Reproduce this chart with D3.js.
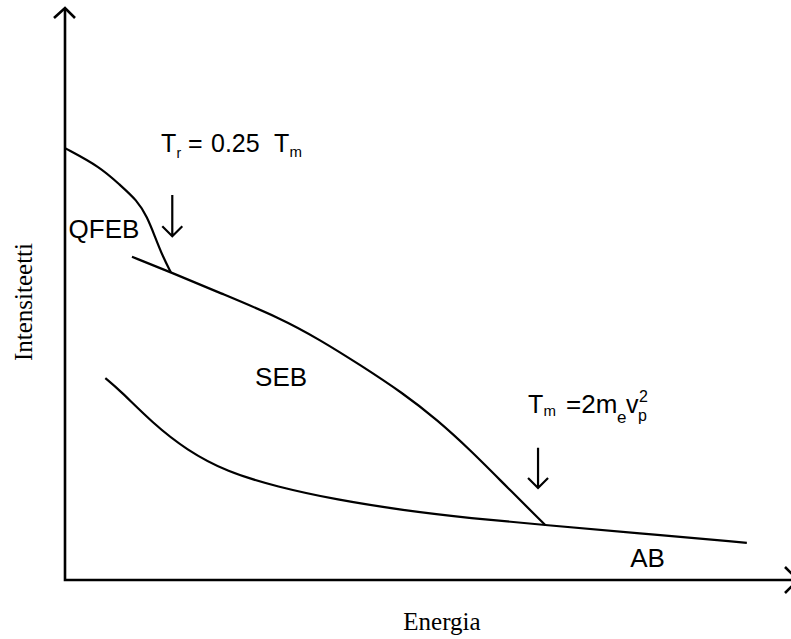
<!DOCTYPE html>
<html>
<head>
<meta charset="utf-8">
<script src="https://cdn.jsdelivr.net/npm/d3@7"></script>
<style>
  body { margin: 0; background: #fff; }
  .curve { fill: none; stroke: #000; stroke-width: 2.2; }
  .axis-line { fill: none; stroke: #000; stroke-width: 2.6; }
  .lbl { font-family: "Liberation Sans", Arial, sans-serif; font-size: 25px; fill: #000; }
  .region { font-size: 26px; }
  .title { font-family: "Liberation Serif", "Times New Roman", serif; font-size: 25px; fill: #000; }
</style>
</head>
<body>
<script>
var width = 791,
  height = 639;

// energia (x) / intensiteetti (y), arbitrary units 0..100
var qfebEnergy = [0, 4.9, 7.6, 10.0, 11.4, 12.5, 13.6, 14.7];
var qfebIntensity = [75.5, 72.2, 69.1, 66.4, 63.5, 60.0, 56.5, 53.8];

var sebEnergy = [9.3, 14.7, 21.5, 29.9, 35.4, 41.0, 46.9, 51.7, 56.3, 60.8, 66.7];
var sebIntensity = [56.5, 53.8, 50.2, 45.8, 42.0, 37.6, 32.7, 28.0, 22.7, 17.0, 9.6];

var abEnergy = [5.6, 7.6, 12.2, 16.9, 22.5, 29.4, 37.8, 46.9, 56.3, 66.7, 79.4, 94.7];
var abIntensity = [35.3, 33.2, 27.4, 22.7, 18.9, 16.3, 14.0, 12.2, 10.8, 9.6, 8.2, 6.5];

// kynnysenergiat: Tr = 0.25 Tm ja Tm
var markerEnergy = [14.9, 65.7];
var markerTop = [67.3, 23.1];
var markerBottom = [60.1, 16.1];

var regionLabels = ["QFEB", "SEB", "AB"];

var svg = d3.select("body").append("svg")
  .attr("width", width)
  .attr("height", height);

var x = d3.scaleLinear().domain([0, 100]).range([65, 785]);
var y = d3.scaleLinear().domain([0, 100]).range([580, 8]);

var line = d3.line()
  .x(d => x(d[0]))
  .y(d => y(d[1]))
  .curve(d3.curveBasis);

var curves = [
  d3.zip(qfebEnergy, qfebIntensity),
  d3.zip(sebEnergy, sebIntensity),
  d3.zip(abEnergy, abIntensity)
];

svg.selectAll(".curve")
  .data(curves)
  .enter()
  .append("path")
  .attr("class", "curve")
  .attr("d", line);

// akselit nuolineen
var x0 = x(0), y0 = y(0);
svg.append("path")
  .attr("class", "axis-line")
  .attr("d", `M${x0},${y(100)} V${y0} H${x(100) + 15}`);
svg.append("path")
  .attr("class", "axis-line")
  .attr("stroke-width", 2)
  .attr("d", `M${x0 - 11},${y(100) + 10} L${x0},${y(100)} L${x0 + 10},${y(100) + 10}`);
svg.append("path")
  .attr("class", "axis-line")
  .attr("stroke-width", 2)
  .attr("d", `M${x(100)},${y0 - 13} L${x(100) + 13},${y0} L${x(100)},${y0 + 13}`);

// nuolet alaspäin
svg.selectAll(".marker")
  .data(markerEnergy.map((e, i) => ({ e: e, top: markerTop[i], bottom: markerBottom[i] })))
  .enter()
  .append("path")
  .attr("class", "curve marker")
  .attr("stroke-width", 2)
  .attr("d", d => {
    var cx = x(d.e), t = y(d.top), b = y(d.bottom);
    return `M${cx},${t} V${b} M${cx - 10},${b - 10} L${cx},${b} L${cx + 10},${b - 10}`;
  });

// alueiden nimet
var labelPos = [[0.5, 59.8], [26.4, 33.9], [78.5, 2.3]];
svg.selectAll(".region")
  .data(regionLabels)
  .enter()
  .append("text")
  .attr("class", "lbl region")
  .attr("x", (d, i) => x(labelPos[i][0]))
  .attr("y", (d, i) => y(labelPos[i][1]))
  .text(d => d);

// Tr = 0.25 Tm
var t1 = svg.append("text").attr("class", "lbl");
t1.append("tspan").attr("x", 161).attr("y", 152).text("T");
t1.append("tspan").attr("x", 176.5).attr("y", 158).attr("font-size", 14).text("r");
t1.append("tspan").attr("x", 188).attr("y", 152).text("=");
t1.append("tspan").attr("x", 211).attr("y", 152).text("0.25");
t1.append("tspan").attr("x", 274).attr("y", 152).text("T");
t1.append("tspan").attr("x", 289.5).attr("y", 157).attr("font-size", 15).text("m");

// Tm = 2 me vp^2
var t2 = svg.append("text").attr("class", "lbl");
t2.append("tspan").attr("x", 528).attr("y", 413).text("T");
t2.append("tspan").attr("x", 543.5).attr("y", 416).attr("font-size", 15).text("m");
t2.append("tspan").attr("x", 566).attr("y", 413).attr("font-size", 26).text("=2m");
t2.append("tspan").attr("x", 617).attr("y", 423).attr("font-size", 17).text("e");
t2.append("tspan").attr("x", 626).attr("y", 413).text("v");
t2.append("tspan").attr("x", 638).attr("y", 421).attr("font-size", 16).text("p");
t2.append("tspan").attr("x", 639).attr("y", 402).attr("font-size", 16).text("2");

// akselien otsikot
svg.append("text")
  .attr("class", "title")
  .attr("text-anchor", "middle")
  .attr("x", 442)
  .attr("y", 630)
  .text("Energia");

svg.append("text")
  .attr("class", "title")
  .attr("text-anchor", "middle")
  .attr("transform", "translate(32,302) rotate(-90)")
  .text("Intensiteetti");
</script>
</body>
</html>
